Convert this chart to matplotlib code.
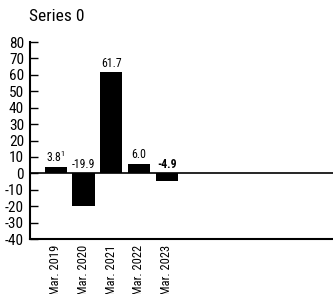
import matplotlib
matplotlib.use("Agg")
import matplotlib.pyplot as plt

plt.rcParams['font.family'] = ['Roboto Condensed', 'DejaVu Sans']
plt.rcParams['mathtext.fontset'] = 'custom'
plt.rcParams['mathtext.rm'] = 'Roboto Condensed'

categories = ["Mar. 2019", "Mar. 2020", "Mar. 2021", "Mar. 2022", "Mar. 2023"]
values = [3.8, -19.9, 61.7, 6.0, -4.9]
value_labels = ["3.8$^{\\mathrm{1}}$", "-19.9", "61.7", "6.0", "-4.9"]
yticks = list(range(-40, 81, 10))

fig = plt.figure(figsize=(3.33, 2.94), dpi=100)
ax = fig.add_axes([0.0886, 0.187, 0.9114, 0.67])

pos = list(range(1, len(categories) + 1))
ax.bar(pos, values, width=0.8, color='black', zorder=2)
ax.axhline(0, color='black', lw=1.2, zorder=3)

# labels of negative bars sit just above the zero line
for x, v, lab in zip(pos, values, value_labels):
    y = max(v, 0) + 1.5
    w = 'bold' if lab == "-4.9" else 'normal'
    ax.text(x, y, lab, ha='center', va='bottom', fontsize=8.5, fontweight=w)

ax.set_xlim(0.05, 11)
ax.set_ylim(-40, 80)
ax.set_yticks(yticks)
ax.set_yticklabels([str(t) for t in yticks], fontsize=11)
ax.set_xticks(pos)
ax.set_xticklabels(categories, rotation=90, fontsize=9)
ax.tick_params(axis='x', length=0, pad=4)
ax.tick_params(axis='y', length=6, width=1, pad=4, direction='in')

for s in ['top', 'right']:
    ax.spines[s].set_visible(False)
ax.spines['left'].set_linewidth(1.5)
ax.spines['bottom'].set_linewidth(1.5)

fig.text(0.088, 0.92, "Series 0", fontsize=12.5, ha='left', va='bottom')

fig.savefig("out.png", dpi=100)
